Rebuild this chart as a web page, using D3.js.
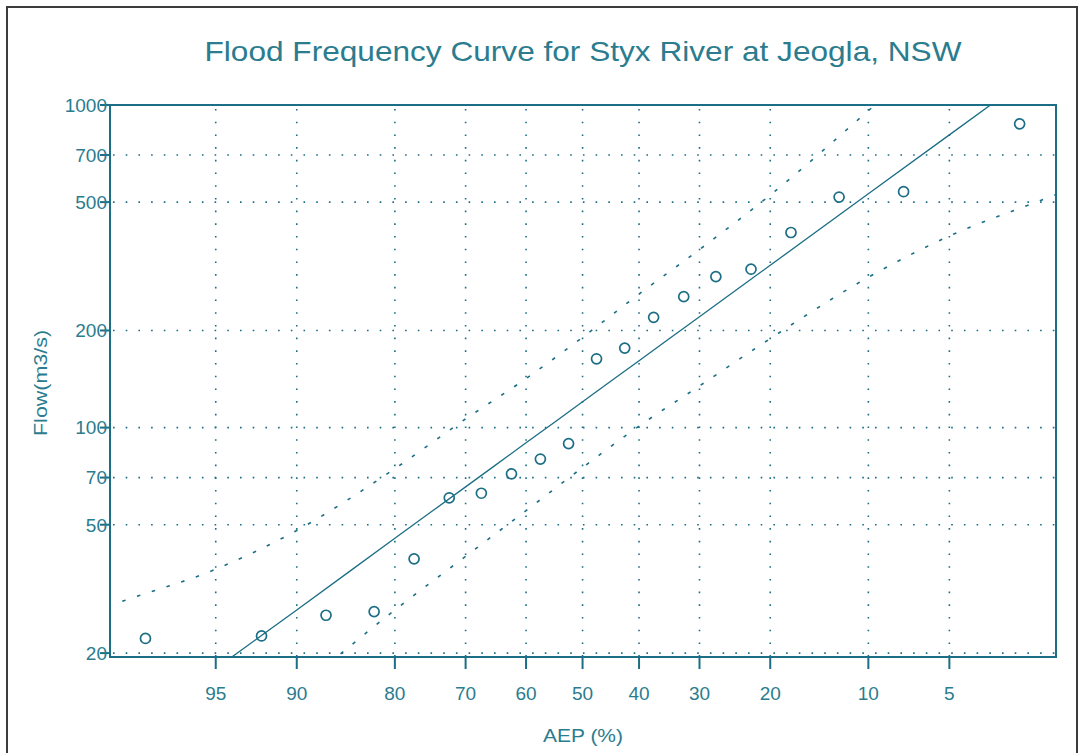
<!DOCTYPE html>
<html>
<head>
<meta charset="utf-8">
<script src="https://cdn.jsdelivr.net/npm/d3@7"></script>
<style>
  html, body { margin: 0; padding: 0; background: #ffffff; }
  svg { display: block; }
  text { font-family: "Liberation Sans", Arial, sans-serif; }
</style>
</head>
<body>
<svg id="chart" width="1078" height="753"></svg>
<script>
// Axis ticks
const aepTicks = [95, 90, 80, 70, 60, 50, 40, 30, 20, 10, 5];
const flowTicks = [20, 50, 70, 100, 200, 500, 700, 1000];

// Annual maxima (plotting position AEP %, flow m3/s)
const obsAep  = [97.5, 92.5, 87.5, 82.5, 77.5, 72.5, 67.5, 62.5, 57.5, 52.5,
                 47.5, 42.5, 37.5, 32.5, 27.5, 22.5, 17.5, 12.5, 7.5, 2.5];
const obsFlow = [22.2, 22.6, 26.2, 26.9, 39.2, 60.6, 62.6, 71.9, 79.9, 89.2,
                 163.4, 176.4, 219.7, 254.6, 293.8, 309.7, 402.5, 518.4, 538.5, 874];

// Fitted frequency curve and confidence limits
const curveAep   = [99, 98, 95, 90, 80, 70, 60, 50, 40, 30, 20, 10, 5, 2, 1];
const fittedFlow = [8.1, 11.1, 17.9, 27.2, 45.4, 65.5, 89.7, 120.2, 161.2, 220.6, 318.6, 530.4, 807.9, 1297, 1778];
const upperFlow  = [25.0, 29.1, 36.4, 48.0, 74.6, 106.4, 141.9, 190.5, 259.4, 356.4, 526, 960, 1610, 2890, 4270];
const lowerFlow  = [4.0, 5.7, 9.7, 15.4, 27.2, 39.9, 55.3, 75.2, 101.1, 134.6, 188.8, 292.4, 392.6, 505.8, 598];

const TEAL = "#1b6e85";
const TEXT = "#2b7c8e";

// Inverse standard normal CDF (Acklam's rational approximation)
function probit(p) {
  const a = [-3.969683028665376e+01, 2.209460984245205e+02, -2.759285104469687e+02,
             1.383577518672690e+02, -3.066479806614716e+01, 2.506628277459239e+00];
  const b = [-5.447609879822406e+01, 1.615858368580409e+02, -1.556989798598866e+02,
             6.680131188771972e+01, -1.328068155288572e+01];
  const c = [-7.784894002430293e-03, -3.223964580411365e-01, -2.400758277161838e+00,
             -2.549732539343734e+00, 4.374664141464968e+00, 2.938163982698783e+00];
  const d = [7.784695709041462e-03, 3.224671290700398e-01, 2.445134137142996e+00,
             3.754408661907416e+00];
  const pl = 0.02425, ph = 1 - pl;
  let q, r;
  if (p < pl) {
    q = Math.sqrt(-2 * Math.log(p));
    return (((((c[0]*q+c[1])*q+c[2])*q+c[3])*q+c[4])*q+c[5]) / ((((d[0]*q+d[1])*q+d[2])*q+d[3])*q+1);
  }
  if (p <= ph) {
    q = p - 0.5; r = q * q;
    return (((((a[0]*r+a[1])*r+a[2])*r+a[3])*r+a[4])*r+a[5])*q / (((((b[0]*r+b[1])*r+b[2])*r+b[3])*r+b[4])*r+1);
  }
  q = Math.sqrt(-2 * Math.log(1 - p));
  return -(((((c[0]*q+c[1])*q+c[2])*q+c[3])*q+c[4])*q+c[5]) / ((((d[0]*q+d[1])*q+d[2])*q+d[3])*q+1);
}

const plot = { left: 110, right: 1056, top: 105, bottom: 657 };

// Normal probability scale on AEP: linear in the standard normal variate
const zScale = d3.scaleLinear().domain([-2.119, 2.123]).range([plot.left, plot.right]);
const x = aep => zScale(probit(1 - aep / 100));
const y = d3.scaleLog().domain([19.45, 1000]).range([plot.bottom, plot.top]);

const svg = d3.select("#chart");

// Outer frame
const frame = svg.append("g").attr("stroke", "#3c3c3c").attr("stroke-width", 2).attr("fill", "none");
frame.append("line").attr("x1", 7).attr("x2", 7).attr("y1", 6).attr("y2", 753);
frame.append("line").attr("x1", 6).attr("x2", 1078).attr("y1", 7).attr("y2", 7);
frame.append("line").attr("x1", 1077).attr("x2", 1077).attr("y1", 6).attr("y2", 753);

// Title
svg.append("text")
  .attr("x", 583).attr("y", 61)
  .attr("text-anchor", "middle")
  .attr("font-size", 28)
  .attr("fill", TEXT)
  .attr("textLength", 757)
  .attr("lengthAdjust", "spacingAndGlyphs")
  .text("Flood Frequency Curve for Styx River at Jeogla, NSW");

svg.append("defs").append("clipPath").attr("id", "plotClip")
  .append("rect")
  .attr("x", plot.left).attr("y", plot.top)
  .attr("width", plot.right - plot.left).attr("height", plot.bottom - plot.top);

// Dotted grid
const grid = svg.append("g")
  .attr("stroke", TEAL).attr("stroke-width", 1.6)
  .attr("stroke-dasharray", "1.6,11.1").attr("fill", "none");
grid.selectAll("line.h").data(flowTicks).join("line")
  .attr("class", "h")
  .attr("x1", plot.left + 3).attr("x2", plot.right)
  .attr("y1", d => y(d)).attr("y2", d => y(d));
grid.selectAll("line.v").data(aepTicks).join("line")
  .attr("class", "v")
  .attr("x1", d => x(d)).attr("x2", d => x(d))
  .attr("y1", plot.top + 4).attr("y2", plot.bottom);

// Curves
const lineGen = vals => d3.line()
  .x((d, i) => x(curveAep[i]))
  .y(d => y(d))
  .curve(d3.curveMonotoneX)(vals);

const curves = svg.append("g").attr("clip-path", "url(#plotClip)").attr("fill", "none").attr("stroke", TEAL);
curves.append("path").attr("d", lineGen(fittedFlow)).attr("stroke-width", 1.3);
curves.append("path").attr("d", lineGen(upperFlow)).attr("stroke-width", 1.6).attr("stroke-dasharray", "3.5,12");
curves.append("path").attr("d", lineGen(lowerFlow)).attr("stroke-width", 1.6).attr("stroke-dasharray", "3.5,12");

// Observed points
svg.append("g").selectAll("circle").data(obsFlow).join("circle")
  .attr("cx", (d, i) => x(obsAep[i]))
  .attr("cy", d => y(d))
  .attr("r", 5)
  .attr("fill", "none")
  .attr("stroke", TEAL)
  .attr("stroke-width", 1.7);

// Plot frame
svg.append("rect")
  .attr("x", plot.left).attr("y", plot.top)
  .attr("width", plot.right - plot.left).attr("height", plot.bottom - plot.top)
  .attr("fill", "none").attr("stroke", TEAL).attr("stroke-width", 2);

// Y axis ticks and labels
const yAxis = svg.append("g");
yAxis.selectAll("line").data(flowTicks).join("line")
  .attr("x1", plot.left - 10).attr("x2", plot.left)
  .attr("y1", d => y(d)).attr("y2", d => y(d))
  .attr("stroke", TEAL).attr("stroke-width", 2);
yAxis.selectAll("text").data(flowTicks).join("text")
  .attr("x", plot.left - 3).attr("y", d => y(d))
  .attr("dy", "0.36em")
  .attr("text-anchor", "end")
  .attr("font-size", 19)
  .attr("fill", TEXT)
  .text(d => d);

// X axis ticks and labels
const xAxis = svg.append("g");
xAxis.selectAll("line").data(aepTicks).join("line")
  .attr("x1", d => x(d)).attr("x2", d => x(d))
  .attr("y1", plot.bottom).attr("y2", plot.bottom + 12)
  .attr("stroke", TEAL).attr("stroke-width", 2);
xAxis.selectAll("text").data(aepTicks).join("text")
  .attr("x", d => x(d)).attr("y", 700)
  .attr("text-anchor", "middle")
  .attr("font-size", 19)
  .attr("fill", TEXT)
  .text(d => d);

// Axis titles
svg.append("text")
  .attr("x", 583).attr("y", 742)
  .attr("text-anchor", "middle")
  .attr("font-size", 19)
  .attr("fill", TEXT)
  .attr("textLength", 80)
  .attr("lengthAdjust", "spacingAndGlyphs")
  .text("AEP (%)");

svg.append("text")
  .attr("transform", "translate(47,383) rotate(-90)")
  .attr("text-anchor", "middle")
  .attr("font-size", 18)
  .attr("fill", TEXT)
  .attr("textLength", 106)
  .attr("lengthAdjust", "spacingAndGlyphs")
  .text("Flow(m3/s)");
</script>
</body>
</html>
